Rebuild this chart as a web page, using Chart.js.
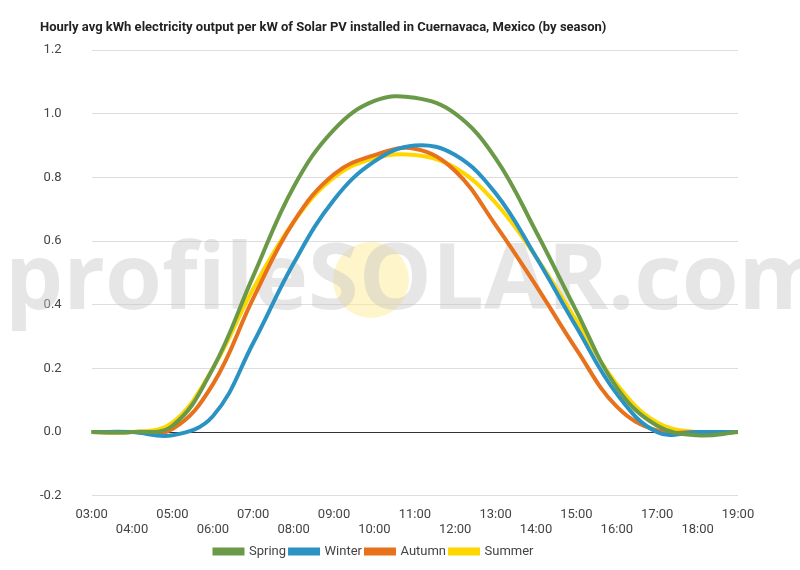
<!DOCTYPE html>
<html><head><meta charset="utf-8">
<script src="https://cdn.jsdelivr.net/npm/chart.js@4"></script>
<style>body{margin:0;background:#fff}#w{width:800px;height:570px}</style>
</head><body><div id="w"><canvas id="c"></canvas></div>
<script>
const hours=['03:00','04:00','05:00','06:00','07:00','08:00','09:00','10:00','11:00','12:00','13:00','14:00','15:00','16:00','17:00','18:00','19:00'];
const summer=[0,0,0.03,0.2,0.45,0.66,0.8,0.86,0.87,0.83,0.72,0.55,0.35,0.15,0.03,0,0];
const autumn=[0,0,0.01,0.15,0.42,0.66,0.81,0.87,0.89,0.82,0.65,0.46,0.26,0.08,0.005,0,0];
const winter=[0,0,-0.01,0.05,0.28,0.53,0.73,0.85,0.9,0.87,0.75,0.55,0.33,0.12,0,0,0];
const spring=[0,0,0.02,0.2,0.49,0.77,0.95,1.04,1.05,1.0,0.86,0.63,0.38,0.14,0.02,-0.01,0];
const labels=hours.map((h,i)=>i%2===0?[h,'']:['',h]);
const title='Hourly avg kWh electricity output per kW of Solar PV installed in Cuernavaca, Mexico (by season)';
const wm={id:'wm',beforeDatasetsDraw(ch){const x=ch.ctx;x.save();
x.fillStyle='rgba(255,235,150,0.5)';x.beginPath();x.arc(371,280,38,0,Math.PI*2);x.fill();
x.fillStyle='rgba(200,200,200,0.45)';x.font='bold 92px "Open Sans"';x.textBaseline='middle';x.fillText('profileSOLAR.com',5,283);x.restore();},
afterDraw(ch){const x=ch.ctx;x.save();x.fillStyle='#222';x.font='bold 13px Roboto';x.textBaseline='middle';x.fillText(title,40,28);x.restore();}};
const ds=(l,d,c,o)=>({label:l,data:d,borderColor:c,backgroundColor:c,borderWidth:4,pointRadius:0,tension:0.4,order:o});
new Chart(document.getElementById('c'),{type:'line',plugins:[wm],
data:{labels,datasets:[ds('Summer',summer,'#ffd700',4),ds('Autumn',autumn,'#e8711c',3),ds('Winter',winter,'#2a93c4',2),ds('Spring',spring,'#6a9a48',1)]},
options:{responsive:true,maintainAspectRatio:false,animation:false,
layout:{padding:{left:10,right:62,top:50,bottom:2}},
plugins:{title:{display:false},
legend:{position:'bottom',labels:{boxWidth:28,boxHeight:4,font:{family:'Roboto',size:13},color:'#444',padding:4}},tooltip:{enabled:false}},
scales:{x:{grid:{display:false},border:{display:false},ticks:{autoSkip:false,maxRotation:0,font:{family:'Roboto',size:13},color:'#444'}},
y:{min:-0.2,max:1.2,border:{display:false},ticks:{stepSize:0.2,callback:v=>(Math.abs(v)<1e-9?0:v).toFixed(1),font:{family:'Roboto',size:13},color:'#444',padding:30},
grid:{color:c=>Math.abs(c.tick.value)<1e-9?'#333':'#ddd',drawTicks:false}}}}});
</script></body></html>
